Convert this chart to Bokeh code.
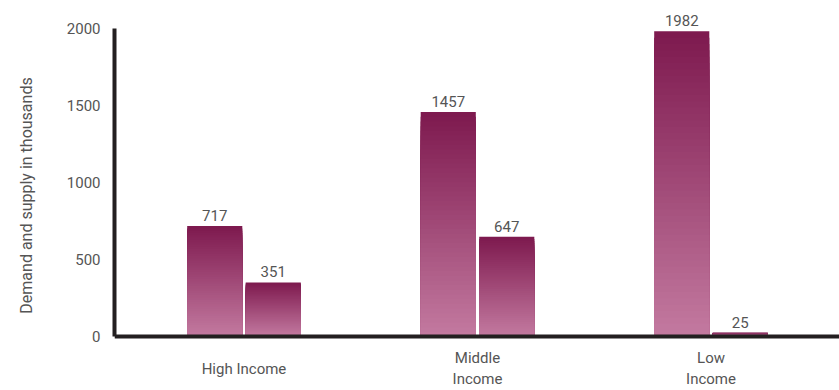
from bokeh.plotting import figure
from bokeh.models import Range1d, FixedTicker, ColumnDataSource, LabelSet, LinearAxis
from bokeh.core.properties import value
from bokeh.embed import file_html
from bokeh.resources import INLINE

# ---- data ----
categories = ["High Income", "Middle Income", "Low Income"]
category_tick_labels = ["High Income", "Middle\nIncome", "Low\nIncome"]
demand = [717, 1457, 1982]
supply = [351, 647, 25]
y_ticks = [0, 500, 1000, 1500, 2000]

# ---- style ----
FONT = "Roboto"
TOP_COLOR = (126, 26, 79)
BOTTOM_COLOR = (196, 123, 161)
AXIS_COLOR = "#231f20"
TEXT_COLOR = "#555555"
BAR_W = 0.236
OFFSET = 0.1253
N_STEPS = 48

p = figure(width=839, height=390, output_backend="svg", toolbar_location=None,
           x_range=Range1d(-0.5546, 2.5503), y_range=Range1d(-350.6, 2181.8),
           x_axis_location=None, min_border_left=114, min_border_right=0,
           min_border_top=0, min_border_bottom=0)
p.outline_line_color = None
p.xgrid.visible = False
p.ygrid.visible = False
p.background_fill_color = "white"
p.border_fill_color = "white"


def mix(t):
    r = [round(BOTTOM_COLOR[k] + (TOP_COLOR[k] - BOTTOM_COLOR[k]) * t) for k in range(3)]
    return "#%02x%02x%02x" % tuple(r)


# gradient bars: nested rectangles, drawn tallest (darkest) first
xs = list(range(len(categories)))
for series, off in ((demand, -OFFSET), (supply, OFFSET)):
    lefts, rights, tops, colors = [], [], [], []
    for i in range(N_STEPS):
        frac = (N_STEPS - i) / N_STEPS
        for xi, v in zip(xs, series):
            lefts.append(xi + off - BAR_W / 2)
            rights.append(xi + off + BAR_W / 2)
            tops.append(v * frac)
            colors.append(mix(frac))
    src = ColumnDataSource(dict(left=lefts, right=rights, top=tops, color=colors))
    p.quad(left="left", right="right", bottom=0, top="top", fill_color="color",
           line_color=None, source=src)

    lbl = ColumnDataSource(dict(x=[xi + off for xi in xs], y=series,
                                t=[str(v) for v in series]))
    p.add_layout(LabelSet(x="x", y="y", text="t", source=lbl, text_align="center",
                          text_baseline="bottom", y_offset=5, text_font=value(FONT),
                          text_font_size="15px", text_color=TEXT_COLOR))


# x axes, fixed at y = 0 (single-line label sits lower, as in the original)
def make_xaxis(ticks, standoff, line_color):
    ax = LinearAxis(ticker=FixedTicker(ticks=ticks), fixed_location=0)
    ax.major_label_overrides = {i: category_tick_labels[i] for i in ticks}
    ax.axis_line_width = 4
    ax.axis_line_color = line_color
    ax.major_tick_line_color = None
    ax.minor_tick_line_color = None
    ax.major_tick_out = 0
    ax.major_tick_in = 0
    ax.major_label_standoff = standoff
    ax.major_label_text_font = FONT
    ax.major_label_text_font_size = "15px"
    ax.major_label_text_color = TEXT_COLOR
    p.add_layout(ax, "below")
    return ax


make_xaxis([0], 23, AXIS_COLOR)
make_xaxis([1, 2], 12, None)

p.yaxis.ticker = FixedTicker(ticks=y_ticks)
p.yaxis.bounds = (0, 2000)
p.yaxis.axis_line_width = 4
p.yaxis.axis_line_color = AXIS_COLOR
p.yaxis.major_tick_line_color = None
p.yaxis.minor_tick_line_color = None
p.yaxis.major_tick_out = 0
p.yaxis.major_tick_in = 0
p.yaxis.major_label_standoff = 14
p.yaxis.major_label_text_font = FONT
p.yaxis.major_label_text_font_size = "15px"
p.yaxis.major_label_text_color = TEXT_COLOR
p.yaxis.axis_label = "Demand and supply in thousands"
p.yaxis.axis_label_text_font = FONT
p.yaxis.axis_label_text_font_size = "16px"
p.yaxis.axis_label_text_font_style = "normal"
p.yaxis.axis_label_text_color = TEXT_COLOR
p.yaxis.axis_label_standoff = 28

open("out.html", "w").write(file_html(p, INLINE))
